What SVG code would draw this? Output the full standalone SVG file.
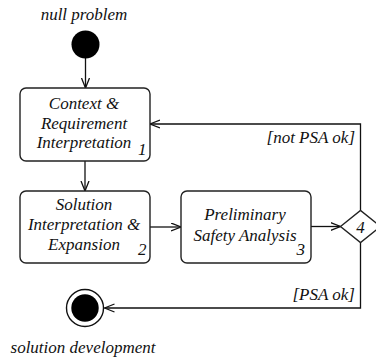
<svg xmlns="http://www.w3.org/2000/svg" width="376" height="360" viewBox="0 0 376 360">
<defs>
<style>
text{font-family:"Liberation Serif","Times New Roman",serif;font-style:italic;font-size:17px;fill:#111;}
.c{text-anchor:middle;}
.r{text-anchor:end;}
.box{fill:#fff;stroke:#222;stroke-width:1.4;}
.ln{fill:none;stroke:#111;stroke-width:1.3;}
</style>
<marker id="arr" markerUnits="userSpaceOnUse" markerWidth="12" markerHeight="10" refX="10" refY="4.5" orient="auto">
<path d="M0,0.5 L10,4.5 L0,8.5" fill="none" stroke="#111" stroke-width="1.3"/>
</marker>
</defs>
<rect width="376" height="360" fill="#fff"/>
<g id="connectors">
<line class="ln" x1="85.5" y1="58" x2="85.5" y2="88" marker-end="url(#arr)"/>
<line class="ln" x1="85" y1="161" x2="85" y2="191" marker-end="url(#arr)"/>
<line class="ln" x1="150" y1="227" x2="181" y2="227" marker-end="url(#arr)"/>
<line class="ln" x1="311" y1="226.5" x2="340.5" y2="226.5" marker-end="url(#arr)"/>
<path class="ln" d="M360.5,210.5 V124 H150" marker-end="url(#arr)"/>
<path class="ln" d="M360.5,242.5 V308 H104.5" marker-end="url(#arr)"/>
<text class="r" x="355" y="143" font-family="Liberation Serif, Times New Roman, serif">[not PSA ok]</text>
<text class="r" x="355" y="300" font-family="Liberation Serif, Times New Roman, serif">[PSA ok]</text>
</g>
<g id="start">
<text class="c" x="84" y="20" font-family="Liberation Serif, Times New Roman, serif">null problem</text>
<circle cx="85.5" cy="44.5" r="14" fill="#000"/>
</g>
<g id="node1">
<rect class="box" x="20" y="88" width="130" height="73" rx="6"/>
<text class="c" x="84" y="109" font-family="Liberation Serif, Times New Roman, serif">Context &amp;</text>
<text class="c" x="84" y="128.5" font-family="Liberation Serif, Times New Roman, serif">Requirement</text>
<text class="c" x="84" y="148" font-family="Liberation Serif, Times New Roman, serif">Interpretation</text>
<text x="138" y="155" font-family="Liberation Serif, Times New Roman, serif">1</text>
</g>
<g id="node2">
<rect class="box" x="20" y="191" width="130" height="72" rx="6"/>
<text class="c" x="84" y="210" font-family="Liberation Serif, Times New Roman, serif">Solution</text>
<text class="c" x="84" y="230" font-family="Liberation Serif, Times New Roman, serif">Interpretation &amp;</text>
<text class="c" x="84" y="250" font-family="Liberation Serif, Times New Roman, serif">Expansion</text>
<text x="138" y="255" font-family="Liberation Serif, Times New Roman, serif">2</text>
</g>
<g id="node3">
<rect class="box" x="181" y="191" width="130" height="72" rx="6"/>
<text class="c" x="245" y="220" font-family="Liberation Serif, Times New Roman, serif">Preliminary</text>
<text class="c" x="245" y="241" font-family="Liberation Serif, Times New Roman, serif">Safety Analysis</text>
<text x="296.5" y="255" font-family="Liberation Serif, Times New Roman, serif">3</text>
</g>
<g id="decision">
<polygon class="box" points="340.5,226.5 360.5,210.5 380.5,226.5 360.5,242.5"/>
<text class="c" x="360.5" y="232.5" font-family="Liberation Serif, Times New Roman, serif">4</text>
</g>
<g id="end">
<circle cx="85" cy="308" r="18.5" fill="#fff" stroke="#111" stroke-width="1.4"/>
<circle cx="85" cy="308" r="13.7" fill="#000"/>
<text class="c" x="83" y="353" font-family="Liberation Serif, Times New Roman, serif">solution development</text>
</g>
</svg>
